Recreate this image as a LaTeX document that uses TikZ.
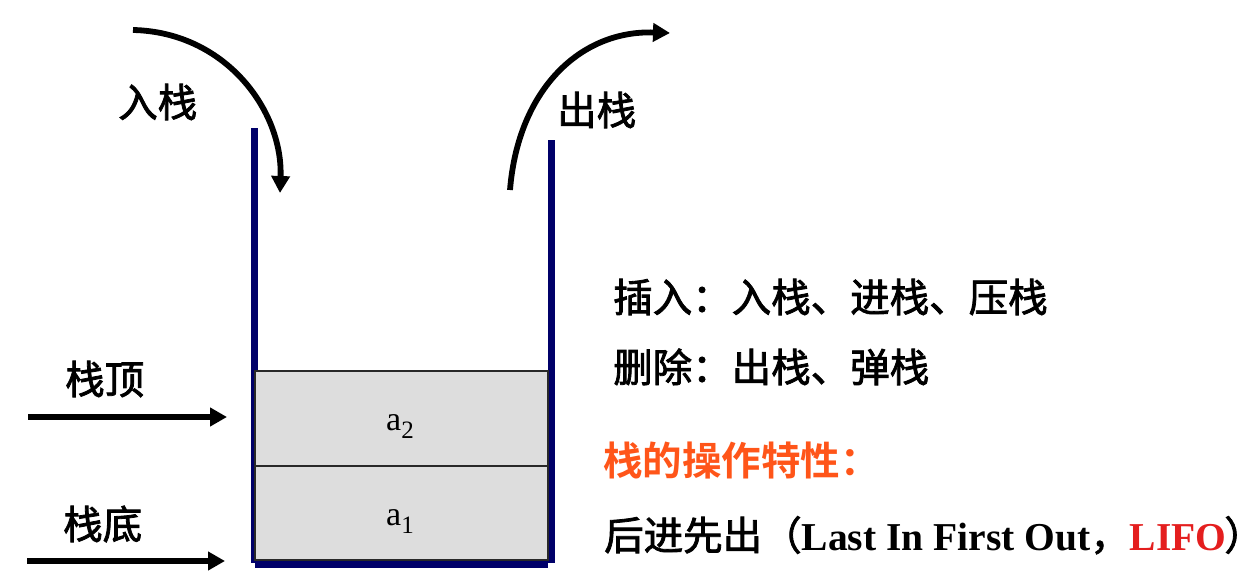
\documentclass[tikz,border=0pt]{standalone}
\usepackage{fontspec}
\setmainfont{Liberation Serif}
\newfontfamily\cjk{Noto Sans CJK SC}[FakeBold=2]
\newfontfamily\cjkbold{Noto Sans CJK SC Bold}
\usetikzlibrary{arrows.meta}
\definecolor{wallblue}{RGB}{0,0,105}
\definecolor{cellgray}{RGB}{221,221,221}
\definecolor{cellline}{RGB}{40,40,40}
\definecolor{hotorange}{RGB}{255,85,25}
\definecolor{lifored}{RGB}{228,30,30}
\begin{document}
\begin{tikzpicture}[x=1pt,y=-1pt,
  txt/.style={inner sep=0pt,anchor=base west,font=\cjk\fontsize{39.5}{42}\selectfont},
  wall/.style={draw=wallblue,line width=7.5pt},
  cell/.style={draw=cellline,line width=1.8pt,fill=cellgray,minimum width=293pt,inner sep=0pt},
  elem/.style={inner sep=0pt,anchor=base,font=\fontsize{34}{36}\selectfont},
  flow/.style={draw=black,line width=5.8pt,-{Triangle[length=17pt,width=18pt]}}]
\useasboundingbox (0,0) rectangle (1250,586);
\fill[white] (0,0) rectangle (1250,586);
% stack walls
\coordinate (lwt) at (254.5,128);
\coordinate (lwb) at (254.5,563);
\coordinate (rwt) at (551.5,140);
\coordinate (rwb) at (551.5,563);
\draw[wall] (lwt) -- (lwb);
\draw[wall] (rwt) -- (rwb);
% cells
\node[cell,minimum height=95pt] (c2) at (401.5,418.5) {};
\node[cell,minimum height=94pt] (c1) at (401.5,513) {};
\coordinate (bl) at (255,564.5);
\coordinate (br) at (548,564.5);
\draw[wall,line width=7pt] (bl) -- (br);
\node[elem] (a2) at (400,430) {a\raisebox{-0.24em}{\fontsize{25}{25}\selectfont 2}};
\node[elem] (a1) at (400,525) {a\raisebox{-0.24em}{\fontsize{25}{25}\selectfont 1}};
% push / pop arrows
\coordinate (ins) at (133,30);
\coordinate (ine) at (280,193);
\draw[flow] (ins) .. controls (225,32) and (283,110) .. (ine);
\coordinate (outs) at (510,190);
\coordinate (oute) at (670,33);
\draw[flow] (outs) .. controls (518,90) and (580,30) .. (oute);
\node[txt] (push) at (118,117) {入栈};
\node[txt] (pop) at (557,125) {出栈};
% top / bottom pointers
\node[txt] (top) at (65,394) {栈顶};
\node[txt] (bot) at (63,539) {栈底};
\coordinate (tps) at (28,417);
\coordinate (tpe) at (227,417);
\coordinate (bps) at (27,561);
\coordinate (bpe) at (225,561);
\draw[flow] (tps) -- (tpe);
\draw[flow] (bps) -- (bpe);
% right text
\node[txt] (l1) at (613,312) {插入：入栈、进栈、压栈};
\node[txt] (l2) at (613,382) {删除：出栈、弹栈};
\node[txt,text=hotorange,font=\cjkbold\fontsize{39.5}{42}\selectfont] (l3) at (603,475) {栈的操作特性：};
\node[txt] (l4) at (604,550) {后进先出（{\rmfamily\bfseries Last In First Out}，{\rmfamily\bfseries\color{lifored}LIFO}\kern-2pt\makebox[0.4em][l]{）}};
\end{tikzpicture}
\end{document}
